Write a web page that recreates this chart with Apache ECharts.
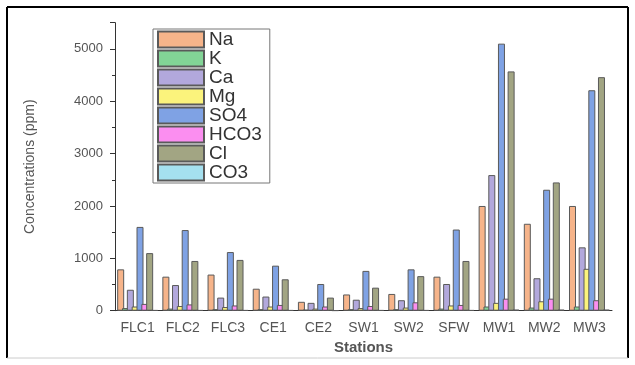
<!DOCTYPE html>
<html>
<head>
<meta charset="utf-8">
<script src="https://cdn.jsdelivr.net/npm/echarts@6/dist/echarts.min.js"></script>
<style>
html,body{margin:0;padding:0;background:#fff;}
#c{width:635px;height:365px;}
</style>
</head>
<body>
<div id="c"></div>
<script>
const stations = ['FLC1','FLC2','FLC3','CE1','CE2','SW1','SW2','SFW','MW1','MW2','MW3'];
const Na   = [790, 650, 690, 420, 170, 310, 320, 650, 2000, 1660, 2000];
const K    = [50, 40, 30, 30, 20, 30, 30, 40, 80, 60, 80];
const Ca   = [400, 490, 250, 270, 150, 210, 200, 510, 2590, 620, 1210];
const Mg   = [80, 90, 70, 80, 40, 50, 60, 100, 150, 180, 800];
const SO4  = [1600, 1540, 1120, 860, 510, 760, 790, 1550, 5100, 2310, 4210];
const HCO3 = [130, 120, 100, 110, 80, 90, 160, 110, 230, 230, 200];
const Cl   = [1100, 950, 970, 600, 250, 440, 660, 950, 4570, 2450, 4460];
const CO3  = [10, 10, 10, 10, 5, 10, 10, 10, 20, 20, 20];
const yTicks = [0, 1000, 2000, 3000, 4000, 5000];

const seriesDefs = [
  ['Na', Na, '#f6b48a'],
  ['K', K, '#82d496'],
  ['Ca', Ca, '#b2a8dc'],
  ['Mg', Mg, '#fbf37c'],
  ['SO4', SO4, '#7fa2e4'],
  ['HCO3', HCO3, '#fb8ef0'],
  ['Cl', Cl, '#a2a583'],
  ['CO3', CO3, '#a5e0ef']
];

const chart = echarts.init(document.getElementById('c'));
const font = 'Liberation Sans, Arial, sans-serif';
chart.setOption({
  animation: false,
  backgroundColor: '#fff',
  grid: {left: 115, right: 23, top: 22.7, bottom: 54.3, containLabel: false},
  legend: {
    orient: 'vertical',
    left: 153, top: 29,
    padding: [1, 8, 1, 4],
    icon: 'rect',
    itemWidth: 46, itemHeight: 16, itemGap: 0,
    borderColor: '#777', borderWidth: 1,
    data: seriesDefs.map(d => d[0]),
    textStyle: {fontFamily: font, fontSize: 19, color: '#333', lineHeight: 19}
  },
  xAxis: {
    type: 'category',
    data: stations,
    name: 'Stations',
    nameLocation: 'middle',
    nameGap: 30,
    nameTextStyle: {fontFamily: font, fontSize: 15, fontWeight: 'bold', color: '#555'},
    axisLine: {lineStyle: {color: '#333', width: 1}},
    axisTick: {alignWithLabel: true, length: 4, lineStyle: {color: '#333'}},
    axisLabel: {fontFamily: font, fontSize: 14, color: '#555', margin: 10},
    splitLine: {show: false}
  },
  yAxis: {
    type: 'value',
    min: 0, max: 5500, interval: 1000,
    name: 'Concentrations (ppm)',
    nameLocation: 'middle',
    nameGap: 78,
    nameRotate: 90,
    nameTextStyle: {fontFamily: font, fontSize: 14, color: '#555'},
    axisLine: {show: true, lineStyle: {color: '#333', width: 1}},
    axisTick: {show: true, inside: false, length: 5, lineStyle: {color: '#333'}},
    minorTick: {show: true, splitNumber: 2, length: 3, lineStyle: {color: '#333'}},
    axisLabel: {fontFamily: font, fontSize: 13, color: '#555', margin: 12,
      formatter: v => yTicks.indexOf(v) >= 0 ? String(v) : ''},
    splitLine: {show: false}
  },
  series: seriesDefs.map(d => ({
    name: d[0],
    type: 'bar',
    data: d[1],
    barWidth: 7,
    barGap: '-31%',
    itemStyle: {color: d[2], borderColor: '#5a5a5a', borderWidth: 1}
  })),
  graphic: [
    {type: 'line', shape: {x1: 7, y1: 7, x2: 628, y2: 7}, style: {stroke: '#000', lineWidth: 2}},
    {type: 'line', shape: {x1: 7, y1: 7, x2: 7, y2: 358}, style: {stroke: '#000', lineWidth: 2}},
    {type: 'line', shape: {x1: 628, y1: 7, x2: 628, y2: 358}, style: {stroke: '#000', lineWidth: 2}},
    {type: 'line', shape: {x1: 7, y1: 358, x2: 628, y2: 358}, style: {stroke: '#ccc', lineWidth: 1}}
  ]
});
</script>
</body>
</html>
